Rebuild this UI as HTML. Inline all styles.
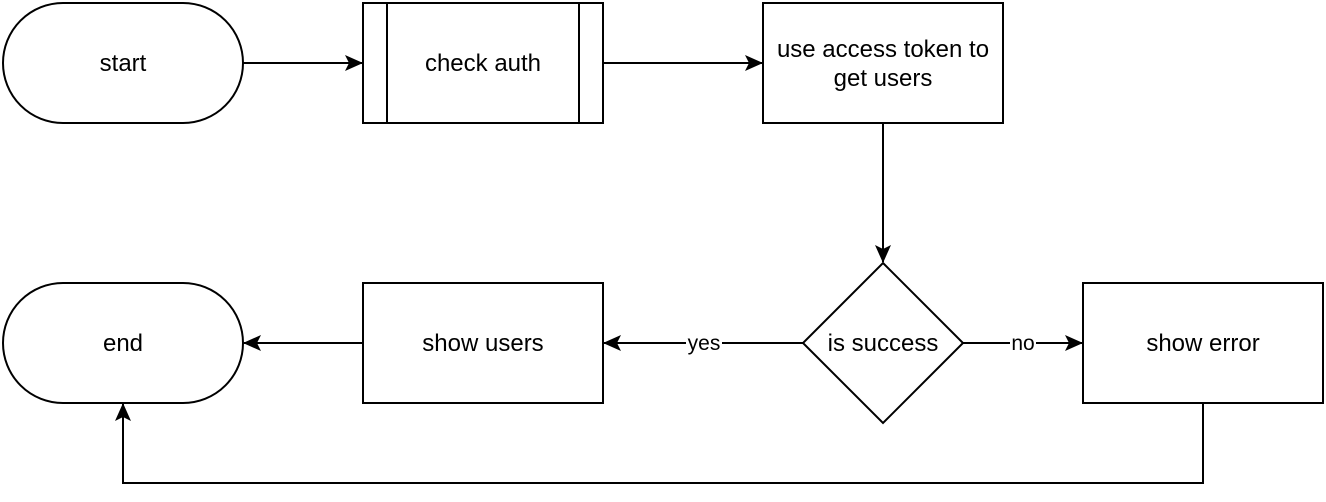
<!DOCTYPE html>
<html><head><meta charset="utf-8"><style>
html,body{margin:0;padding:0;background:#fff;width:1326px;height:502px;overflow:hidden}
text{font-family:"Liberation Sans",sans-serif;fill:#000}
</style></head><body>
<svg width="1326" height="502" viewBox="0 0 1326 502" xmlns="http://www.w3.org/2000/svg">
<defs>
<marker id="a" markerWidth="18" markerHeight="16" refX="17" refY="8" orient="auto" markerUnits="userSpaceOnUse">
<path d="M0,0 L18,8 L0,16 L4,8 Z" fill="#000"/>
</marker>
</defs>
<g fill="#fff" stroke="#000" stroke-width="2">
<rect x="3" y="3" width="240" height="120" rx="60"/>
<rect x="363" y="3" width="240" height="120"/>
<line x1="387" y1="3" x2="387" y2="123"/>
<line x1="579" y1="3" x2="579" y2="123"/>
<rect x="763" y="3" width="240" height="120"/>
<polygon points="883,263 963,343 883,423 803,343"/>
<rect x="363" y="283" width="240" height="120"/>
<rect x="3" y="283" width="240" height="120" rx="60"/>
<rect x="1083" y="283" width="240" height="120"/>
</g>
<g stroke="#000" stroke-width="2" fill="none">
<line x1="243" y1="63" x2="362" y2="63" marker-end="url(#a)"/>
<line x1="603" y1="63" x2="762" y2="63" marker-end="url(#a)"/>
<line x1="883" y1="123" x2="883" y2="262" marker-end="url(#a)"/>
<line x1="803" y1="343" x2="604" y2="343" marker-end="url(#a)"/>
<line x1="963" y1="343" x2="1082" y2="343" marker-end="url(#a)"/>
<line x1="363" y1="343" x2="244" y2="343" marker-end="url(#a)"/>
<polyline points="1203,403 1203,483 123,483 123,404" marker-end="url(#a)"/>
</g>
<rect x="686" y="332" width="36" height="22" fill="#fff"/>
<rect x="1010" y="332" width="26" height="22" fill="#fff"/>
<g font-size="24" text-anchor="middle">
<text x="123" y="71">start</text>
<text x="483" y="71">check auth</text>
<text x="883" y="57">use access token to</text>
<text x="883" y="86">get users</text>
<text x="883" y="351">is success</text>
<text x="483" y="351">show users</text>
<text x="123" y="351">end</text>
<text x="1203" y="351">show error</text>
</g>
<g font-size="21" text-anchor="middle">
<text x="704" y="350">yes</text>
<text x="1023" y="350">no</text>
</g>
</svg>
</body></html>
